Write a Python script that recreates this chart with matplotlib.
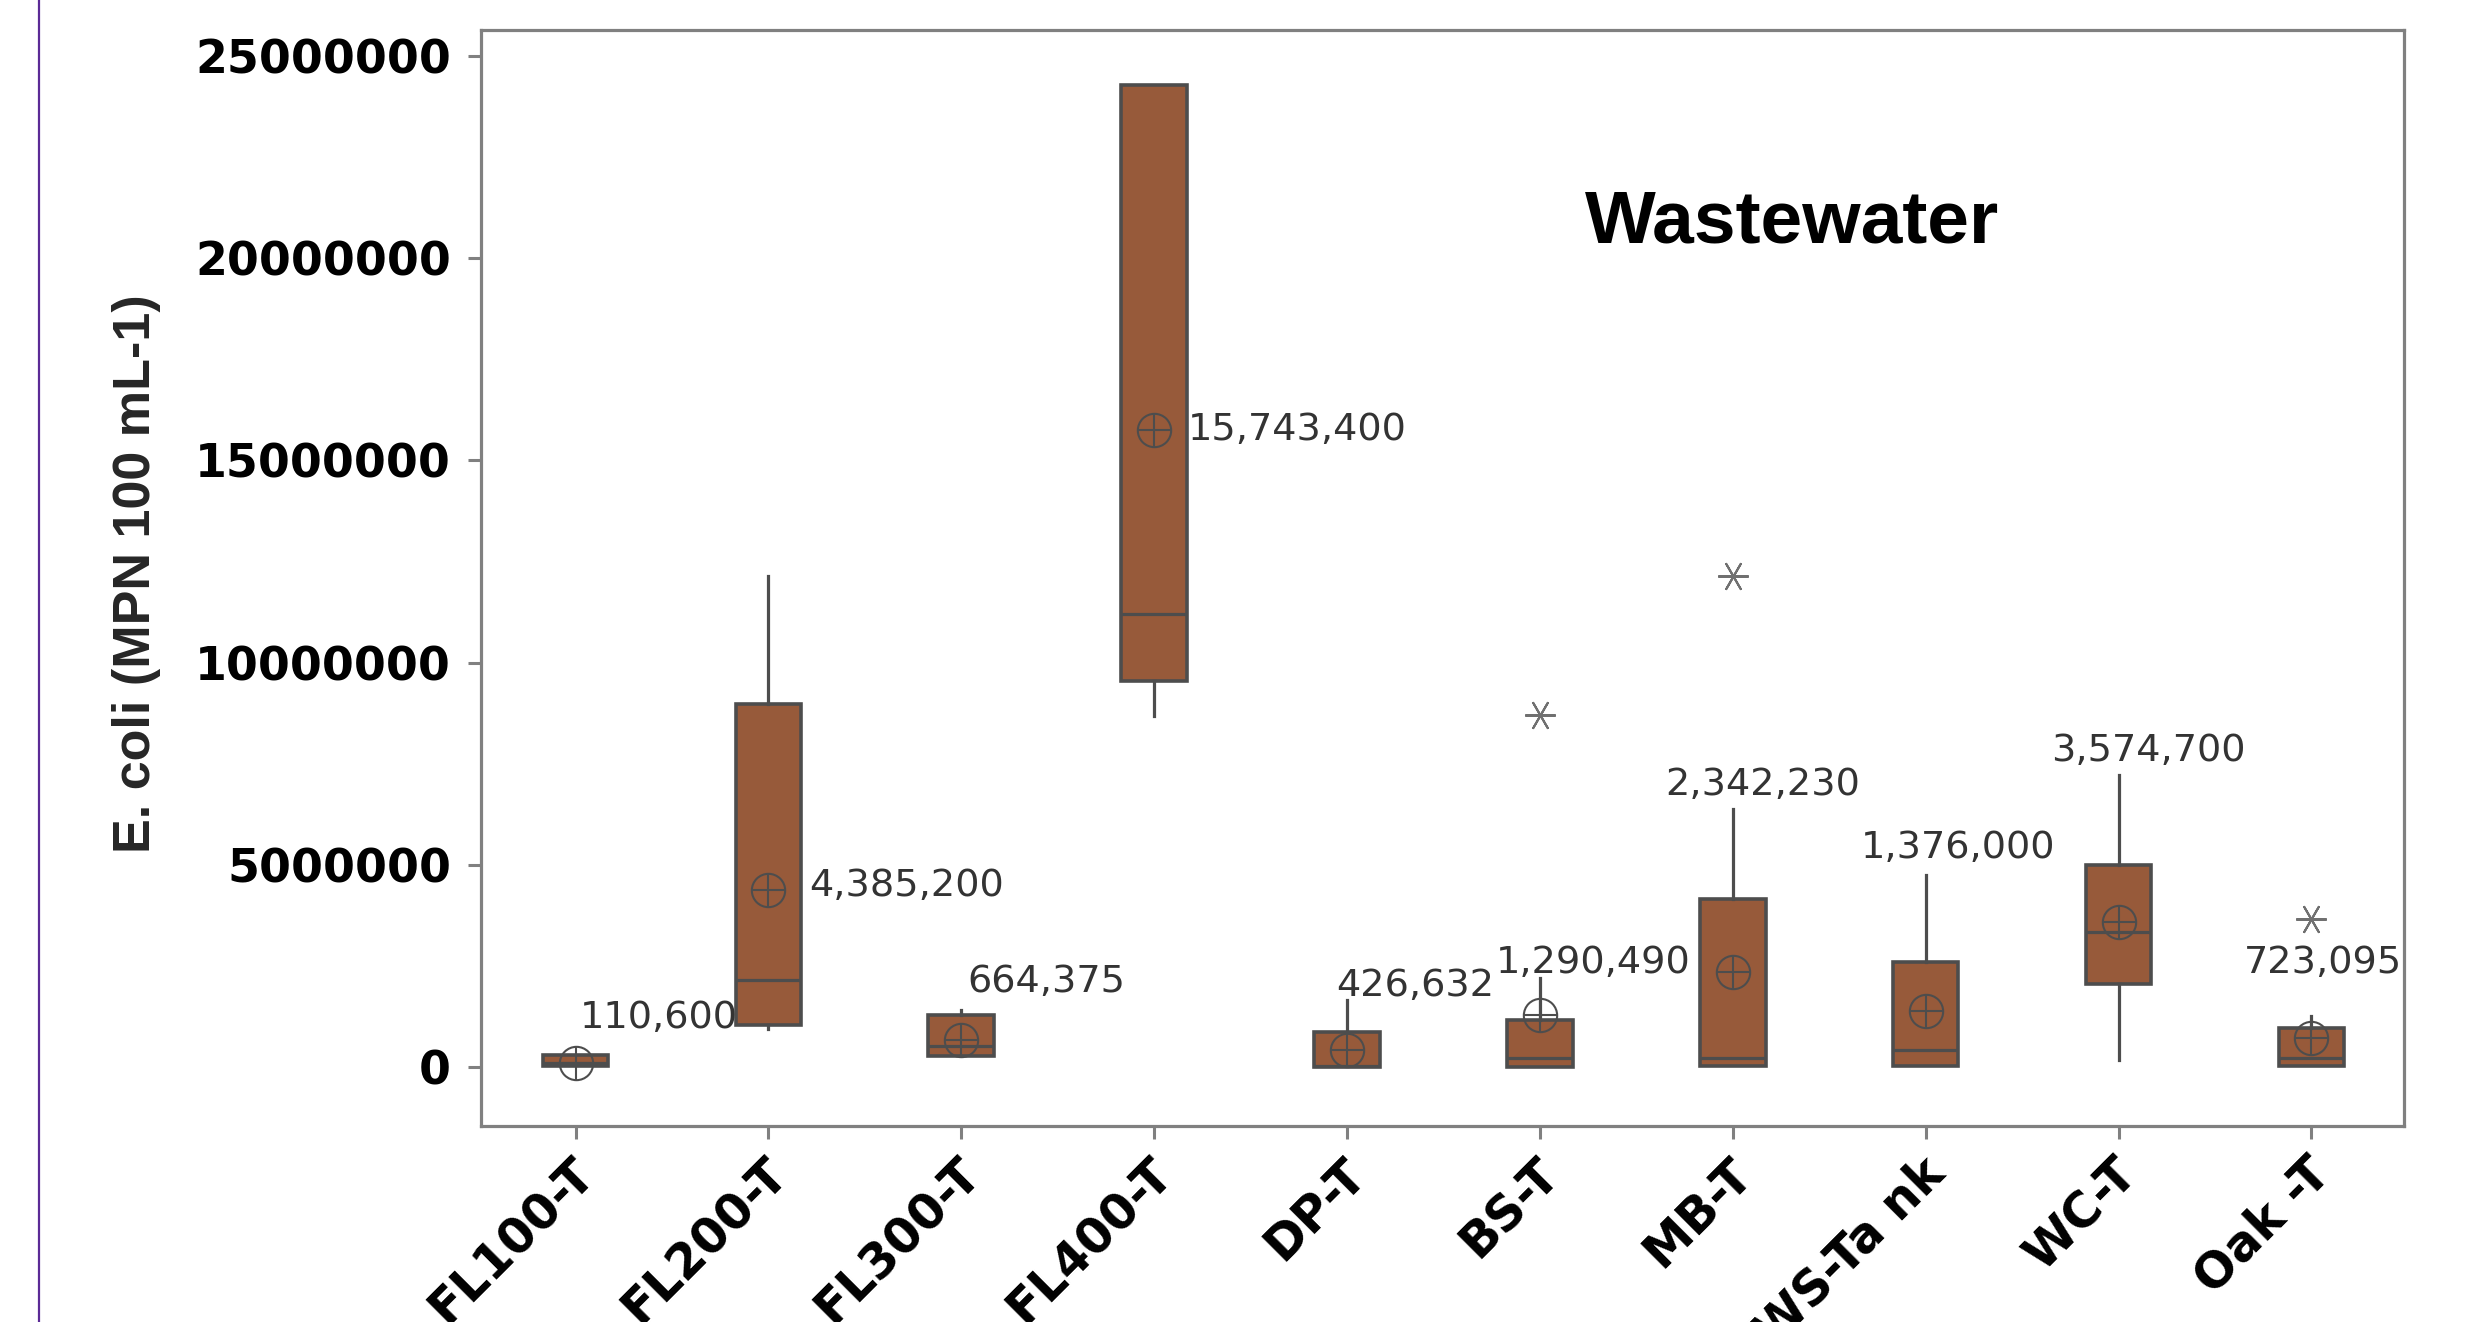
import matplotlib
matplotlib.use("Agg")
import matplotlib.pyplot as plt
from matplotlib.lines import Line2D
from matplotlib.transforms import ScaledTranslation

# ---- data -------------------------------------------------------------
categories = ["FL100-T", "FL200-T", "FL300-T", "FL400-T", "DP-T",
              "BS-T", "MB-T", "HWS-Ta nk", "WC-T", "Oak -T"]
whislo = [20000, 930000, 270000, 8690000, 10000, 10000, 30000, 30000, 180000, 30000]
q1 = [20000, 1030000, 270000, 9550000, 10000, 10000, 30000, 30000, 2060000, 30000]
med = [100000, 2160000, 510000, 11200000, 30000, 220000, 220000, 420000, 3350000, 220000]
q3 = [300000, 8980000, 1300000, 24280000, 876000, 1154000, 4150000, 2610000, 4990000, 960000]
whishi = [300000, 12150000, 1420000, 24280000, 1670000, 2200000, 6390000, 4760000, 7210000, 1260000]
outliers = [[], [], [], [], [], [8700000], [12130000], [], [], [3650000]]
means = [110600, 4385200, 664375, 15743400, 426632, 1290490, 2342230, 1376000, 3574700, 723095]
yticks = [0, 5000000, 10000000, 15000000, 20000000, 25000000]

# placement of the mean labels (x offset from category, y offset from mean)
label_dx = [0.02, 0.21, 0.03, 0.175, -0.057, -0.23, -0.35, -0.335, -0.35, -0.35]
label_dy = [1100000, 90000, 1450000, 0, 1590000, 1280000, 4620000, 4050000, 4230000, 1850000]

# ---- styling ----------------------------------------------------------
box_fill = "#975A3A"
edge = "#4D4D4D"
spine_gray = "#808080"

fig = plt.figure(figsize=(24.72, 13.22), dpi=100)
ax = fig.add_axes([481 / 2472, 196 / 1322, 1923 / 2472, 1096.5 / 1322])

stats = []
for i, c in enumerate(categories):
    stats.append(dict(label=c, whislo=whislo[i], q1=q1[i], med=med[i],
                      q3=q3[i], whishi=whishi[i], fliers=outliers[i]))

positions = list(range(len(categories)))
ax.bxp(stats, positions=positions, widths=0.34, patch_artist=True,
       showcaps=False, showfliers=True,
       boxprops=dict(facecolor=box_fill, edgecolor=edge, linewidth=2.6),
       whiskerprops=dict(color=edge, linewidth=2.3),
       medianprops=dict(color=edge, linewidth=2.3),
       flierprops=dict(marker=(6, 2, 90), markersize=22, linestyle="none",
                       markeredgecolor="#707070", markeredgewidth=1.5))

# mean symbol: open circle with crosshair
ax.plot(positions, means, ls="none", marker="o", ms=24, mfc="none",
        mec=edge, mew=1.5, zorder=5)
ax.plot(positions, means, ls="none", marker="+", ms=24,
        mec=edge, mew=1.5, zorder=5)

for i, m in enumerate(means):
    ax.text(positions[i] + label_dx[i], m + label_dy[i], f"{m:,}",
            fontsize=27.5, family="DejaVu Sans", color="#333333",
            ha="left", va="center", zorder=6)

ax.set_xlim(-0.49, 9.48)
ax.set_ylim(-1456000, 25650000)

for s in ax.spines.values():
    s.set_color(spine_gray)
    s.set_linewidth(2.3)

ax.tick_params(axis="both", color=spine_gray, width=2.2, length=9.5,
               direction="out")
ax.tick_params(axis="y", pad=12)
ax.tick_params(axis="x", pad=10)

ax.set_yticks(yticks)
ax.set_yticklabels([str(t) for t in yticks], fontfamily="DejaVu Sans",
                   fontweight="bold", fontsize=33, color="black")

ax.set_xticks(positions)
ax.set_xticklabels(categories, rotation=45, ha="right", va="top",
                   rotation_mode="anchor", fontfamily="DejaVu Sans",
                   fontweight="bold", fontsize=35, color="black")
shift = ScaledTranslation(-4 / 72, 3 / 72, fig.dpi_scale_trans)
for lbl in ax.get_xticklabels():
    lbl.set_transform(lbl.get_transform() + shift)

ax.set_ylabel("E. coli (MPN 100 mL-1)", fontsize=37.5, fontweight="bold",
              family="Liberation Sans", color="#262626")
ax.yaxis.set_label_coords(-0.1664, 0.504)

ax.text(0.574, 0.806, "Wastewater", transform=ax.transAxes, fontsize=54,
        fontweight="bold", family="Liberation Sans", ha="left",
        va="baseline", color="black")

# slide border on the left
fig.add_artist(Line2D([38.5 / 2472, 38.5 / 2472], [0, 1],
                      transform=fig.transFigure, color="#5B2A96", lw=1.6))

fig.savefig("out.png", dpi=100)
